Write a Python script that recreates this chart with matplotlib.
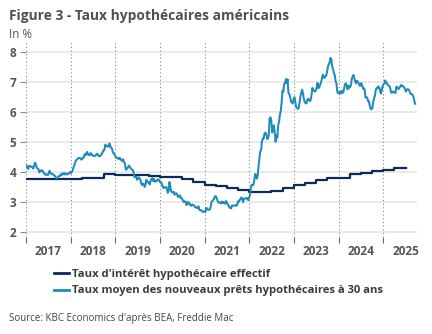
import matplotlib
matplotlib.use("Agg")
import matplotlib.pyplot as plt
from matplotlib.lines import Line2D
import pandas as pd

# Freddie Mac 30-year fixed rate, weekly (%)
rate_2017 = [4.20, 4.12, 4.09, 4.19, 4.19, 4.17, 4.15, 4.16, 4.10, 4.21, 4.30, 4.23, 4.14,
             4.10, 4.08, 3.97, 4.03, 4.02, 4.05, 4.02, 3.95, 3.94, 3.89, 3.91, 3.90, 3.88,
             3.96, 4.03, 3.96, 3.92, 3.93, 3.90, 3.89, 3.86, 3.82, 3.78, 3.78, 3.83, 3.85,
             3.85, 3.91, 3.88, 3.94, 3.94, 3.90, 3.95, 3.92, 3.90, 3.94, 3.93, 3.94, 3.99]
rate_2018 = [3.95, 3.99, 4.04, 4.15, 4.22, 4.32, 4.38, 4.40, 4.43, 4.46, 4.45, 4.44, 4.40,
             4.42, 4.47, 4.47, 4.58, 4.55, 4.61, 4.66, 4.56, 4.56, 4.54, 4.62, 4.57, 4.55,
             4.52, 4.53, 4.52, 4.54, 4.59, 4.59, 4.53, 4.51, 4.52, 4.54, 4.60, 4.65, 4.72,
             4.71, 4.90, 4.85, 4.86, 4.83, 4.87, 4.94, 4.81, 4.81, 4.75, 4.63, 4.62, 4.55]
rate_2019 = [4.51, 4.45, 4.45, 4.46, 4.41, 4.46, 4.41, 4.37, 4.35, 4.41, 4.31, 4.28, 4.06,
             4.08, 4.12, 4.17, 4.20, 4.14, 4.10, 4.07, 4.06, 3.99, 3.82, 3.82, 3.84, 3.73,
             3.75, 3.81, 3.77, 3.75, 3.60, 3.55, 3.60, 3.58, 3.49, 3.56, 3.73, 3.65, 3.64,
             3.65, 3.57, 3.69, 3.75, 3.78, 3.69, 3.75, 3.66, 3.68, 3.68, 3.73, 3.74, 3.72]
rate_2020 = [3.64, 3.65, 3.60, 3.51, 3.45, 3.47, 3.47, 3.49, 3.45, 3.29, 3.36, 3.65, 3.50,
             3.33, 3.31, 3.31, 3.33, 3.23, 3.26, 3.28, 3.24, 3.15, 3.18, 3.21, 3.13, 3.13,
             3.07, 3.03, 2.98, 3.01, 2.99, 2.88, 2.96, 2.99, 2.91, 2.93, 2.86, 2.87, 2.90,
             2.88, 2.87, 2.81, 2.80, 2.81, 2.78, 2.84, 2.72, 2.72, 2.71, 2.67, 2.67, 2.66, 2.67]
rate_2021 = [2.65, 2.79, 2.77, 2.73, 2.73, 2.73, 2.81, 2.97, 3.02, 3.05, 3.09, 3.17,
             3.18, 3.13, 3.04, 2.97, 2.98, 2.96, 2.94, 3.00, 2.95, 2.99, 2.96, 2.93, 3.02,
             2.98, 2.90, 2.88, 2.80, 2.80, 2.77, 2.87, 2.86, 2.87, 2.87, 2.88, 2.86, 2.88, 3.01,
             2.99, 3.05, 3.09, 3.14, 3.09, 2.98, 3.10, 3.10, 3.11, 3.10, 3.12, 3.05, 3.11]
rate_2022 = [3.22, 3.45, 3.56, 3.55, 3.55, 3.69, 3.92, 3.89, 3.76, 3.85, 4.16, 4.42, 4.67,
             4.72, 5.00, 5.11, 5.10, 5.27, 5.30, 5.25, 5.10, 5.09, 5.23, 5.78, 5.81, 5.70,
             5.30, 5.51, 5.54, 5.30, 4.99, 5.22, 5.13, 5.55, 5.66, 5.89, 6.02, 6.29, 6.70,
             6.66, 6.92, 6.94, 7.08, 6.95, 7.08, 6.61, 6.58, 6.49, 6.33, 6.31, 6.27, 6.42]
rate_2023 = [6.48, 6.33, 6.15, 6.13, 6.09, 6.12, 6.32, 6.50, 6.65, 6.73, 6.60, 6.42, 6.32,
             6.28, 6.27, 6.39, 6.43, 6.39, 6.35, 6.39, 6.57, 6.79, 6.71, 6.69, 6.67, 6.71,
             6.81, 6.96, 6.78, 6.81, 6.90, 6.96, 7.09, 7.23, 7.18, 7.12, 7.18, 7.19, 7.31,
             7.49, 7.57, 7.63, 7.79, 7.76, 7.50, 7.44, 7.29, 7.22, 7.03, 6.95, 6.67, 6.61]
rate_2024 = [6.62, 6.66, 6.60, 6.69, 6.63, 6.64, 6.77, 6.90, 6.94, 6.88, 6.74, 6.87, 6.79,
             6.82, 6.88, 7.10, 7.17, 7.22, 7.09, 7.02, 6.94, 7.03, 6.99, 6.95, 6.87, 6.86,
             6.95, 6.89, 6.77, 6.78, 6.73, 6.47, 6.49, 6.46, 6.35, 6.35, 6.20, 6.09, 6.08,
             6.12, 6.32, 6.44, 6.54, 6.72, 6.79, 6.78, 6.84, 6.81, 6.69, 6.60, 6.72, 6.85]
rate_2025 = [6.91, 6.93, 7.04, 6.96, 6.95, 6.89, 6.87, 6.85, 6.76, 6.63, 6.63, 6.67, 6.65,
             6.64, 6.62, 6.83, 6.81, 6.76, 6.76, 6.81, 6.86, 6.89, 6.85, 6.84, 6.81, 6.77,
             6.67, 6.72, 6.75, 6.74, 6.72, 6.63, 6.58, 6.58, 6.56, 6.50, 6.35, 6.26]

# BEA effective mortgage interest rate, quarterly (%), 2017Q1 .. 2025Q2
effective_rate = [3.77, 3.75, 3.75, 3.75,
                  3.75, 3.79, 3.79, 3.91,
                  3.90, 3.89, 3.88, 3.86,
                  3.83, 3.82, 3.74, 3.64,
                  3.55, 3.52, 3.45, 3.38,
                  3.32, 3.32, 3.37, 3.47,
                  3.55, 3.61, 3.72, 3.80,
                  3.78, 3.91, 3.95, 4.02,
                  4.05, 4.12]

years = list(range(2017, 2026))
yticks = [2, 3, 4, 5, 6, 7, 8]

title = "Figure 3 - Taux hypothécaires américains"
unit = "In %"
label_eff = "Taux d'intérêt hypothécaire effectif"
label_new = "Taux moyen des nouveaux prêts hypothécaires à 30 ans"
source = "Source: KBC Economics d'après BEA, Freddie Mac"

NAVY = "#0c2b5a"
BLUE = "#1f8bbd"
GREY_TXT = "#555555"

plt.rcParams["font.family"] = ["Open Sans", "DejaVu Sans"]

weekly = (rate_2017 + rate_2018 + rate_2019 + rate_2020 + rate_2021
          + rate_2022 + rate_2023 + rate_2024 + rate_2025)
weekly_dates = pd.date_range("2017-01-05", periods=len(weekly), freq="7D")

# quarterly steps; the last quarter is held until its end
q_dates = pd.date_range("2017-01-01", periods=len(effective_rate) + 1, freq="QS")
q_vals = effective_rate + [effective_rate[-1]]

fig = plt.figure(figsize=(4.32, 3.34), dpi=100)
ax = fig.add_axes([26 / 432, 1 - 237 / 334, (417 - 26) / 432, (237 - 42) / 334])

# gridlines
for y in yticks:
    ax.axhline(y, color="#e6e6e6", lw=1.2, zorder=0)
for yr in years:
    ax.axvline(pd.Timestamp(f"{yr}-01-01"), color="#808080", lw=0.75,
               linestyle=(0, (1, 2.5)), zorder=1)

ax.step(q_dates, q_vals, where="post", color=NAVY, lw=1.6, zorder=3)
ax.plot(weekly_dates, weekly, color=BLUE, lw=1.45, zorder=4)

ax.set_ylim(1.82, 8.32)
ax.set_xlim(pd.Timestamp("2017-01-01"), pd.Timestamp("2025-10-03"))

for s in ax.spines.values():
    s.set_visible(False)

ax.set_yticks(yticks)
ax.set_yticklabels([str(v) for v in yticks], fontweight="bold", color=GREY_TXT, fontsize=8.5)
ax.tick_params(axis="y", length=4, width=0.8, color="#888888", pad=3)

ax.set_xticks([pd.Timestamp(f"{yr}-01-01") for yr in years])
ax.set_xticklabels([])
ax.tick_params(axis="x", which="major", length=4.5, width=0.8, color="#666666", direction="out")
ax.set_xticks([pd.Timestamp(f"{yr}-07-02") for yr in years], minor=True)
ax.set_xticklabels([str(yr) for yr in years], minor=True, fontweight="bold",
                   color=GREY_TXT, fontsize=8.5)
ax.tick_params(axis="x", which="minor", length=0, pad=6)

fig.text(9 / 432, 1 - 16 / 334, title, fontsize=9.9, fontweight="bold",
         color="#505050", va="center", ha="left")
fig.text(9 / 432, 1 - 34 / 334, unit, fontsize=8.3, color=GREY_TXT, va="center", ha="left")

handles = [Line2D([], [], color=NAVY, lw=2.0), Line2D([], [], color=BLUE, lw=2.0)]
fig.legend(handles, [label_eff, label_new], loc="upper left",
           bbox_to_anchor=(46 / 432, 1 - 261 / 334), frameon=False,
           prop={"weight": "bold", "size": 8.1}, labelcolor="#3c3c3c",
           handlelength=1.35, handletextpad=0.25, labelspacing=0.5, borderpad=0.2)

fig.text(9 / 432, 1 - 318 / 334, source, fontsize=7.0, color="#444444",
         va="center", ha="left")

fig.savefig("out.png", dpi=100)
